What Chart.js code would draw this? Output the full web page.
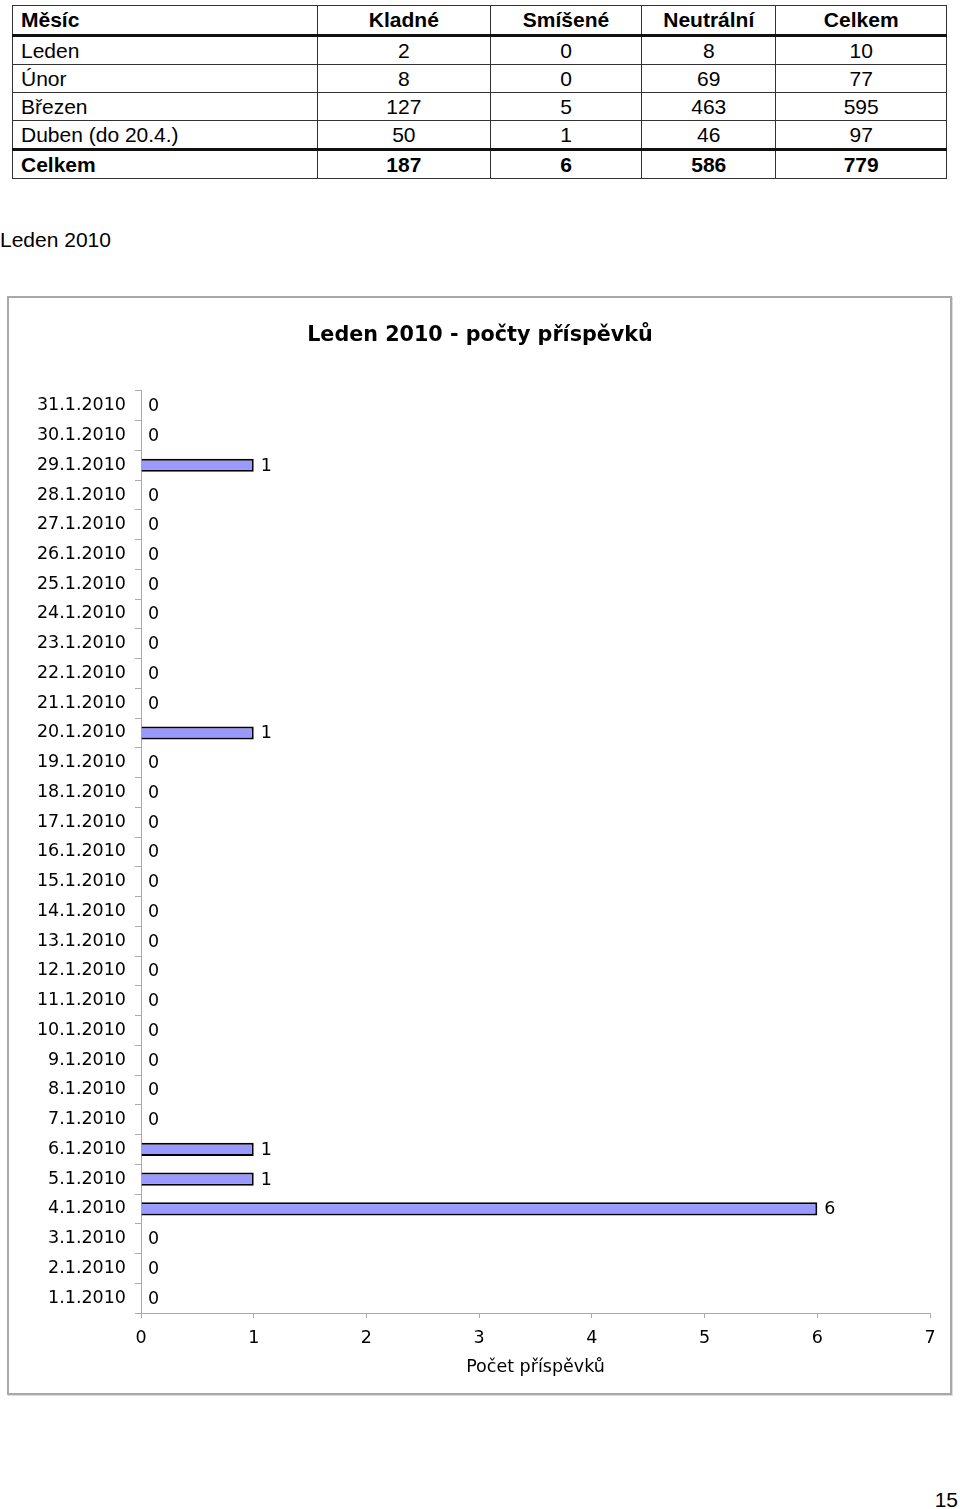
<!DOCTYPE html>
<html>
  <head>
    <title>Leden 2010 - počty příspěvků</title>
    <script src="https://cdn.jsdelivr.net/npm/chart.js@4/dist/chart.umd.min.js"></script>
    <style>
      body {
        margin: 0;
        background: #fff;
        font-family: 'Liberation Sans', Arial, sans-serif;
        color: #000;
      }
      #summary {
        position: absolute;
        left: 12px;
        top: 5px;
        width: 935px;
        border-collapse: collapse;
        font-size: 21px;
      }
      #summary td {
        border: 1px solid #333;
        padding: 0;
        text-align: center;
        height: 27px;
      }
      #summary td:first-child {
        text-align: left;
        padding-left: 8px;
      }
      #summary tr.head td {
        font-weight: bold;
        height: 28px;
        border-bottom: 3px solid #111;
      }
      #summary tr.total td {
        font-weight: bold;
        height: 27px;
        border-top: 3px solid #111;
      }
      #heading {
        position: absolute;
        left: 0;
        top: 228px;
        font-size: 21px;
      }
      #box {
        position: absolute;
        left: 7px;
        top: 296px;
        width: 945px;
        height: 1099px;
        box-sizing: border-box;
        border: 2px solid #a8a8a8;
        box-shadow: 1px 1px 0 #ddd;
      }
      #canvas {
        position: absolute;
        left: 8px;
        top: 297px;
      }
      #page {
        position: absolute;
        right: 2px;
        top: 1488px;
        font-size: 21px;
      }
    </style>
  </head>

  <body>
    <table id="summary"></table>
    <div id="heading">Leden 2010</div>
    <div id="box"></div>
    <canvas id="canvas" width="943" height="1097"></canvas>
    <div id="page">15</div>
    <script>
      // summary table
      const tableHeader = ['Měsíc', 'Kladné', 'Smíšené', 'Neutrální', 'Celkem'];
      const months = ['Leden', 'Únor', 'Březen', 'Duben (do 20.4.)'];
      const positive = [2, 8, 127, 50];
      const mixed = [0, 0, 5, 1];
      const neutral = [8, 69, 463, 46];
      const monthTotals = [10, 77, 595, 97];
      const totalRow = ['Celkem', 187, 6, 586, 779];
      const colWidths = [299, 174, 151, 134, 171];

      // January daily counts, 1.1. .. 31.1.
      const days = [];
      for (let d = 1; d <= 31; d++) days.push(d + '.1.2010');
      const posts = [0, 0, 0, 6, 1, 1, 0, 0, 0, 0, 0, 0, 0, 0, 0, 0, 0, 0, 0, 1,
                     0, 0, 0, 0, 0, 0, 0, 0, 1, 0, 0];

      const table = document.getElementById('summary');
      const addRow = (cells, cls) => {
        const tr = document.createElement('tr');
        if (cls) tr.className = cls;
        cells.forEach((c, i) => {
          const td = document.createElement('td');
          td.textContent = c;
          td.style.width = colWidths[i] + 'px';
          tr.appendChild(td);
        });
        table.appendChild(tr);
      };
      addRow(tableHeader, 'head');
      months.forEach((m, i) => addRow([m, positive[i], mixed[i], neutral[i], monthTotals[i]]));
      addRow(totalRow, 'total');

      // value labels next to the bars
      const valueLabels = {
        id: 'valueLabels',
        afterDatasetsDraw(chart) {
          const ctx = chart.ctx;
          ctx.save();
          ctx.font = '17.5px "DejaVu Sans"';
          ctx.fillStyle = '#000';
          ctx.textAlign = 'left';
          ctx.textBaseline = 'middle';
          chart.getDatasetMeta(0).data.forEach((bar, i) => {
            ctx.fillText(String(posts[i]), bar.x + 7, bar.y + 1);
          });
          ctx.restore();
        },
      };

      const ctx = document.getElementById('canvas').getContext('2d');
      new Chart(ctx, {
        type: 'bar',
        data: {
          labels: days,
          datasets: [
            {
              data: posts,
              backgroundColor: '#9999ff',
              borderColor: '#000',
              borderWidth: 2,
              barPercentage: 0.44,
              categoryPercentage: 1,
            },
          ],
        },
        options: {
          indexAxis: 'y',
          responsive: false,
          animation: false,
          layout: {
            // equal side padding keeps the title centred on the box
            padding: { left: 22, right: 21, top: 0, bottom: 16 },
          },
          plugins: {
            legend: { display: false },
            tooltip: { enabled: false },
            title: {
              display: true,
              text: 'Leden 2010 - počty příspěvků',
              color: '#000',
              font: { family: 'DejaVu Sans', size: 20.7, weight: 'bold' },
              padding: { top: 26, bottom: 43 },
            },
          },
          scales: {
            y: {
              reverse: true,
              afterFit: (scale) => { scale.width = 111; },
              border: { display: true, color: '#aaa' },
              grid: { drawOnChartArea: false, color: '#aaa', tickLength: 6 },
              ticks: {
                color: '#000',
                padding: 9,
                font: { family: 'DejaVu Sans', size: 17.5 },
              },
            },
            x: {
              min: 0,
              max: 7,
              afterFit: (scale) => { scale.height = 65; },
              border: { display: true, color: '#aaa' },
              grid: { drawOnChartArea: false, color: '#aaa', tickLength: 5 },
              ticks: {
                stepSize: 1,
                color: '#000',
                padding: 10,
                font: { family: 'DejaVu Sans', size: 17.5 },
              },
              title: {
                display: true,
                text: 'Počet příspěvků',
                color: '#000',
                padding: { top: 0, bottom: 0 },
                font: { family: 'DejaVu Sans', size: 17.5 },
              },
            },
          },
        },
        plugins: [valueLabels],
      });
    </script>
  </body>
</html>
